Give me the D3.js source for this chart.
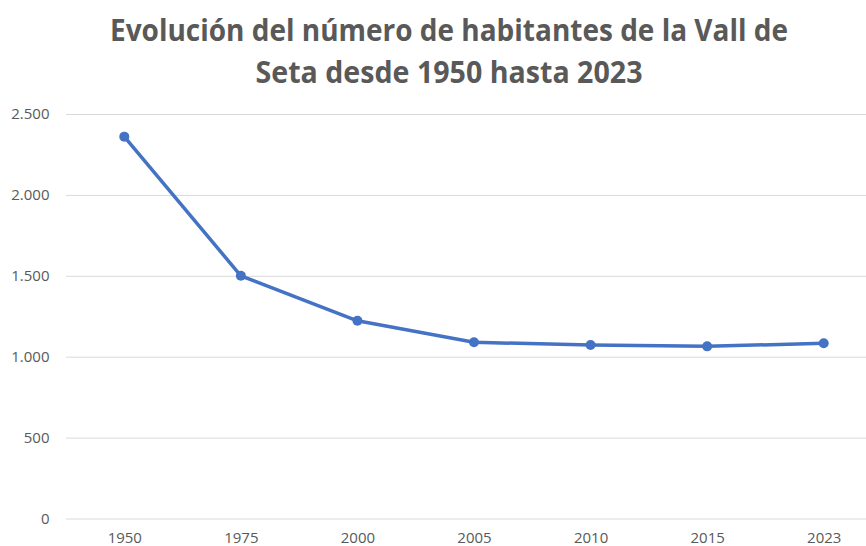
<!DOCTYPE html>
<html>
<head>
<meta charset="utf-8">
<script src="https://cdn.jsdelivr.net/npm/d3@7"></script>
<style>
  html, body { margin: 0; padding: 0; background: #fff; }
  svg { display: block; }
  .tick text { font-family: "Open Sans", "Liberation Sans", sans-serif; font-size: 15px; fill: #595959; }
</style>
</head>
<body>
<div id="chart"></div>
<script>
// chart data
const years = ["1950", "1975", "2000", "2005", "2010", "2015", "2023"];
const habitantes = [2360, 1500, 1222, 1089, 1072, 1064, 1083];
const yTicks = [0, 500, 1000, 1500, 2000, 2500];
const titleLines = [
    "Evolución del número de habitantes de la Vall de",
    "Seta desde 1950 hasta 2023"
];

const width = 866, height = 546;
// plot area runs past the right edge (the original is cropped there)
const plot = {left: 66, right: 882, top: 114, bottom: 518.5};

const svg = d3.select("#chart").append("svg")
    .attr("width", width)
    .attr("height", height);

// title, two centred lines
const titleWidths = [678, 387];
svg.append("g")
    .selectAll("text")
    .data(titleLines)
    .enter().append("text")
    .attr("x", 449)
    .attr("y", (d, i) => 41 + i * 41.5)
    .attr("text-anchor", "middle")
    .attr("textLength", (d, i) => titleWidths[i])
    .attr("lengthAdjust", "spacingAndGlyphs")
    .attr("font-family", "'Liberation Sans Narrow', 'Open Sans', sans-serif")
    .attr("font-weight", "bold")
    .attr("font-size", 30)
    .attr("fill", "#595959")
    .text(d => d);

let x = d3.scalePoint()
    .domain(years)
    .range([plot.left, plot.right])
    .padding(0.5);

let y = d3.scaleLinear()
    .domain([0, 2500])
    .range([plot.bottom, plot.top]);

// spanish number format: 2.500
const fmt = d3.formatLocale({
    decimal: ",", thousands: ".", grouping: [3], currency: ["", " €"]
}).format(",d");

// y axis doubles as the gridlines
let yAxis = svg.append("g")
    .attr("transform", `translate(${plot.left},0)`)
    .call(d3.axisLeft(y)
        .tickValues(yTicks)
        .tickFormat(fmt)
        .tickSize(-(plot.right - plot.left))
        .tickPadding(16.5));
yAxis.select(".domain").remove();
yAxis.selectAll(".tick line")
    .attr("stroke", "#d9d9d9")
    .attr("stroke-width", 1);

// x labels sit tight against the bottom edge, as in the original
let xAxis = svg.append("g")
    .attr("transform", `translate(0,${plot.bottom})`)
    .call(d3.axisBottom(x).tickSize(0).tickPadding(13.5));
xAxis.select(".domain").remove();

// the series line
let line = d3.line()
    .x((d, i) => x(years[i]))
    .y(d => y(d));

svg.append("path")
    .datum(habitantes)
    .attr("d", line)
    .attr("fill", "none")
    .attr("stroke", "#4472C4")
    .attr("stroke-width", 3.5)
    .attr("stroke-linejoin", "round")
    .attr("stroke-linecap", "round");

// markers
svg.append("g")
    .selectAll("circle")
    .data(habitantes)
    .enter().append("circle")
    .attr("cx", (d, i) => x(years[i]))
    .attr("cy", d => y(d))
    .attr("r", 5)
    .attr("fill", "#4472C4");
</script>
</body>
</html>
